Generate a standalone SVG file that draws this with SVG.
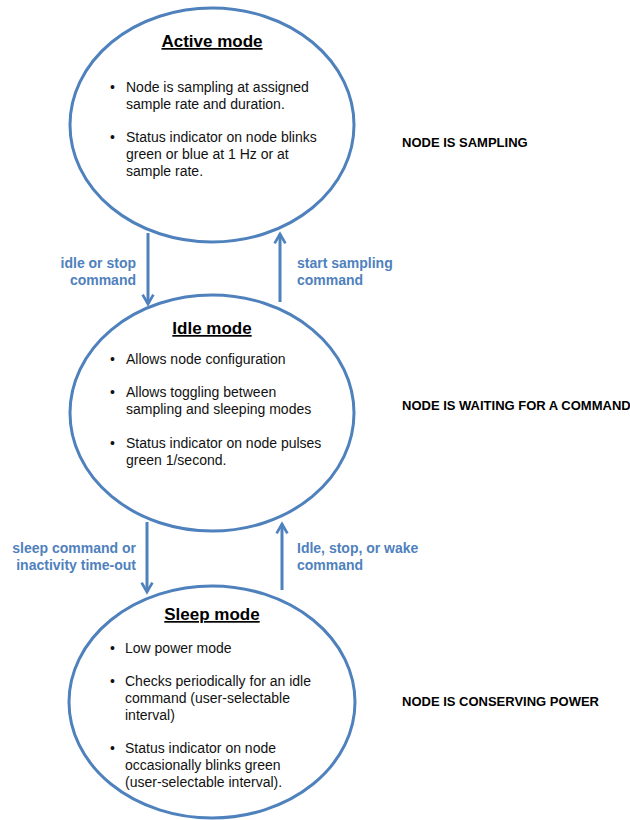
<svg xmlns="http://www.w3.org/2000/svg" width="630" height="820" viewBox="0 0 630 820">
<style>
.st{fill:#fff;stroke:#4f81bd;stroke-width:3}
.ttl{font-family:"Liberation Sans",Arial,sans-serif;font-weight:bold;font-size:17px;text-anchor:middle;text-decoration:underline;fill:#000}
.b{font-family:"Liberation Sans",Arial,sans-serif;font-size:14px;fill:#111}
.lbl{font-family:"Liberation Sans",Arial,sans-serif;font-weight:bold;font-size:14px;fill:#4f81bd}
.r{text-anchor:end}
.side{font-family:"Liberation Sans",Arial,sans-serif;font-weight:bold;font-size:13px;fill:#000}
.c{stroke:#4f81bd;stroke-width:3;fill:none;marker-end:url(#ah)}
</style>
<defs>
<marker id="ah" viewBox="0 0 10 10" refX="8" refY="5" markerWidth="4.5" markerHeight="4.5" orient="auto" markerUnits="strokeWidth">
<path d="M1,1 L8,5 L1,9" fill="none" stroke="#4f81bd" stroke-width="2" stroke-linejoin="miter"/>
</marker>
</defs>
<rect width="630" height="820" fill="#fff"/>
<g id="connectors">
<line class="c" x1="148" y1="233" x2="148" y2="304"/>
<line class="c" x1="280" y1="302" x2="280" y2="234"/>
<line class="c" x1="147" y1="522" x2="147" y2="592"/>
<line class="c" x1="282" y1="590" x2="282" y2="524"/>
<text class="lbl r" x="136" y="268">idle or stop</text>
<text class="lbl r" x="136" y="285">command</text>
<text class="lbl" x="297" y="268">start sampling</text>
<text class="lbl" x="297" y="285">command</text>
<text class="lbl r" x="136" y="553">sleep command or</text>
<text class="lbl r" x="136" y="570">inactivity time-out</text>
<text class="lbl" x="297" y="553">Idle, stop, or wake</text>
<text class="lbl" x="297" y="570">command</text>
</g>
<g id="active">
<ellipse class="st" cx="212" cy="125" rx="142" ry="117"/>
<text class="ttl" x="212" y="47">Active mode</text>
<text class="b" x="110" y="92">•</text><text class="b" x="126" y="92">Node is sampling at assigned</text>
<text class="b" x="126" y="109">sample rate and duration.</text>
<text class="b" x="110" y="142">•</text><text class="b" x="126" y="142">Status indicator on node blinks</text>
<text class="b" x="126" y="159">green or blue at 1 Hz or at</text>
<text class="b" x="126" y="176">sample rate.</text>
</g>
<g id="idle">
<ellipse class="st" cx="212" cy="413" rx="142" ry="118"/>
<text class="ttl" x="212" y="334">Idle mode</text>
<text class="b" x="110" y="364">•</text><text class="b" x="126" y="364">Allows node configuration</text>
<text class="b" x="110" y="397">•</text><text class="b" x="126" y="397">Allows toggling between</text>
<text class="b" x="126" y="414">sampling and sleeping modes</text>
<text class="b" x="110" y="448">•</text><text class="b" x="126" y="448">Status indicator on node pulses</text>
<text class="b" x="126" y="465">green 1/second.</text>
</g>
<g id="sleep">
<ellipse class="st" cx="212" cy="702" rx="143" ry="116"/>
<text class="ttl" x="212" y="620">Sleep mode</text>
<text class="b" x="110" y="653">•</text><text class="b" x="125" y="653">Low power mode</text>
<text class="b" x="110" y="686">•</text><text class="b" x="125" y="686">Checks periodically for an idle</text>
<text class="b" x="125" y="703">command (user-selectable</text>
<text class="b" x="125" y="720">interval)</text>
<text class="b" x="110" y="753">•</text><text class="b" x="125" y="753">Status indicator on node</text>
<text class="b" x="125" y="770">occasionally blinks green</text>
<text class="b" x="125" y="787">(user-selectable interval).</text>
</g>
<g id="side-labels">
<text class="side" x="402" y="147">NODE IS SAMPLING</text>
<text class="side" x="402" y="410">NODE IS WAITING FOR A COMMAND</text>
<text class="side" x="402" y="706">NODE IS CONSERVING POWER</text>
</g>
</svg>
